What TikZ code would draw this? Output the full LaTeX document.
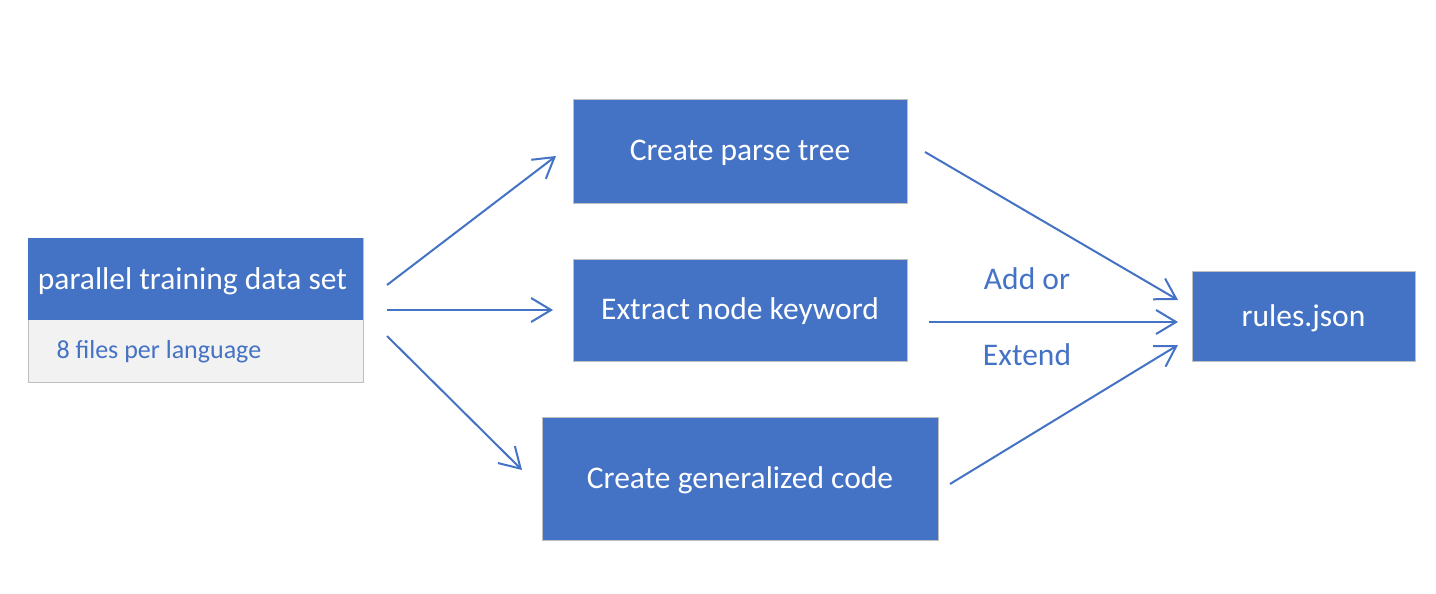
\documentclass[tikz,border=0pt]{standalone}
\usepackage{fontspec}
\setmainfont{Carlito}
\usetikzlibrary{arrows.meta}
\definecolor{blu}{HTML}{4472C4}
\definecolor{lgray}{HTML}{F2F2F2}
\definecolor{bord}{HTML}{BFBFBF}
\begin{document}
\begin{tikzpicture}[x=1pt,y=-1pt,
  box/.style={draw=bord,line width=1pt,fill=blu},
  btxt/.style={text=white,font=\fontsize{31.5}{36}\selectfont},
  conn/.style={draw=blu,line width=2pt,-{Straight Barb[length=20pt,width=24pt,line width=2pt]}},
  lbl/.style={text=blu,font=\fontsize{31.5}{36}\selectfont}]
\useasboundingbox (0,0) rectangle (1436,594);
% left box
\path[fill=lgray,draw=bord,line width=1pt] (28,238) rectangle (363,382);
\path[fill=blu] (28,238) rectangle (363,320);
\node[btxt] (src) at (192.5,281) {parallel training data set};
\node[anchor=west,text=blu,font=\fontsize{26}{30}\selectfont] (sub) at (53,351.5) {8 files per language};
\coordinate (srcA) at (387,285);
\coordinate (srcB) at (387,310);
\coordinate (srcC) at (387,336);
% boxes
\path[box] (573,100) rectangle (907,203);
\node[btxt] (parse) at (740,152.5) {Create parse tree};
\path[box] (573,259) rectangle (907,361);
\node[btxt] (extract) at (740,311.5) {Extract node keyword};
\path[box] (542,417) rectangle (938,540);
\node[btxt] (gen) at (740,480) {Create generalized code};
\path[box] (1192,271) rectangle (1415,361);
\node[btxt] (rules) at (1303.5,318) {rules.json};
% arrow endpoints
\coordinate (pIn) at (556,156);
\coordinate (eIn) at (553,310);
\coordinate (gIn) at (522,470);
\coordinate (pOut) at (925,152);
\coordinate (eOut) at (929,322);
\coordinate (gOut) at (950,484);
\coordinate (r1) at (1178,300);
\coordinate (r2) at (1178,322);
\coordinate (r3) at (1178,345);
\draw[conn] (srcA) -- (pIn);
\draw[conn] (srcB) -- (eIn);
\draw[conn] (srcC) -- (gIn);
\draw[conn] (pOut) -- (r1);
\draw[conn] (eOut) -- (r2);
\draw[conn] (gOut) -- (r3);
\node[lbl] (add) at (1027,279) {Add or};
\node[lbl] (ext) at (1027,355) {Extend};
\end{tikzpicture}
\end{document}
